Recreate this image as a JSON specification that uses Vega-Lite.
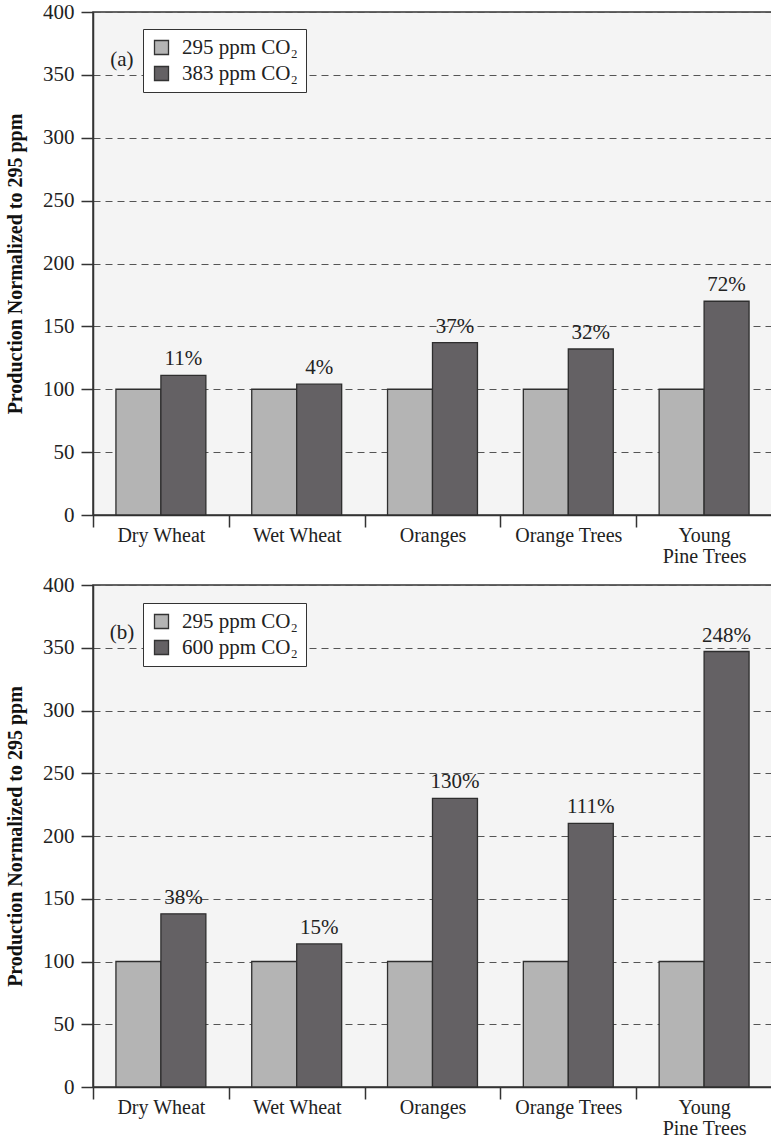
{
  "$schema": "https://vega.github.io/schema/vega-lite/v6.json",
  "padding": {"top": 0, "left": 4, "right": 0, "bottom": 0},
  "background": "white",
  "spacing": 6,
  "config": {
    "font": "Liberation Serif",
    "view": {"fill": "#f4f4f4", "stroke": "#333333", "strokeWidth": 1.5},
    "axis": {"labelFontSize": 21, "labelColor": "#222222", "domainColor": "#333333", "domainWidth": 1.5, "tickColor": "#333333", "tickWidth": 1.5, "tickSize": 12, "titleColor": "#111111"},
    "legend": {"labelFontSize": 21, "labelColor": "#222222"}
  },
  "datasets": {
    "a": [
      {"crop": "Dry Wheat", "series": "295 ppm CO₂", "value": 100, "pct": null},
      {"crop": "Dry Wheat", "series": "383 ppm CO₂", "value": 111, "pct": "11%"},
      {"crop": "Wet Wheat", "series": "295 ppm CO₂", "value": 100, "pct": null},
      {"crop": "Wet Wheat", "series": "383 ppm CO₂", "value": 104, "pct": "4%"},
      {"crop": "Oranges", "series": "295 ppm CO₂", "value": 100, "pct": null},
      {"crop": "Oranges", "series": "383 ppm CO₂", "value": 137, "pct": "37%"},
      {"crop": "Orange Trees", "series": "295 ppm CO₂", "value": 100, "pct": null},
      {"crop": "Orange Trees", "series": "383 ppm CO₂", "value": 132, "pct": "32%"},
      {"crop": "Young Pine Trees", "series": "295 ppm CO₂", "value": 100, "pct": null},
      {"crop": "Young Pine Trees", "series": "383 ppm CO₂", "value": 170, "pct": "72%"}
    ],
    "b": [
      {"crop": "Dry Wheat", "series": "295 ppm CO₂", "value": 100, "pct": null},
      {"crop": "Dry Wheat", "series": "600 ppm CO₂", "value": 138, "pct": "38%"},
      {"crop": "Wet Wheat", "series": "295 ppm CO₂", "value": 100, "pct": null},
      {"crop": "Wet Wheat", "series": "600 ppm CO₂", "value": 114, "pct": "15%"},
      {"crop": "Oranges", "series": "295 ppm CO₂", "value": 100, "pct": null},
      {"crop": "Oranges", "series": "600 ppm CO₂", "value": 230, "pct": "130%"},
      {"crop": "Orange Trees", "series": "295 ppm CO₂", "value": 100, "pct": null},
      {"crop": "Orange Trees", "series": "600 ppm CO₂", "value": 210, "pct": "111%"},
      {"crop": "Young Pine Trees", "series": "295 ppm CO₂", "value": 100, "pct": null},
      {"crop": "Young Pine Trees", "series": "600 ppm CO₂", "value": 347, "pct": "248%"}
    ],
    "tags": [
      {"panel": "a", "label": "(a)", "crop": "Dry Wheat", "value": 362},
      {"panel": "b", "label": "(b)", "crop": "Dry Wheat", "value": 362}
    ]
  },
  "resolve": {"scale": {"color": "independent", "xOffset": "independent"}, "legend": {"color": "independent"}},
  "vconcat": [
    {
      "width": 679,
      "height": 503,
      "encoding": {
        "x": {
          "field": "crop", "type": "nominal",
          "sort": ["Dry Wheat", "Wet Wheat", "Oranges", "Orange Trees", "Young Pine Trees"],
          "scale": {"paddingInner": 0, "paddingOuter": 0},
          "axis": {"title": null, "labelAngle": 0, "tickBand": "extent", "labelPadding": -2, "labelFontSize": 20, "labelLineHeight": 21, "labelBaseline": "top",
                   "labelExpr": "datum.label == 'Young Pine Trees' ? ['Young', 'Pine Trees'] : datum.label"}
        },
        "y": {
          "field": "value", "type": "quantitative",
          "scale": {"domain": [0, 400], "nice": false},
          "axis": {"title": "Production Normalized to 295 ppm", "titleFontSize": 20, "titleFontWeight": "bold", "titlePadding": 17,
                   "values": [0, 50, 100, 150, 200, 250, 300, 350, 400], "labelPadding": 7,
                   "grid": true, "gridDash": [7, 5], "gridColor": "#555555", "gridWidth": 1.2}
        }
      },
      "layer": [
        {
          "data": {"name": "a"},
          "mark": {"type": "bar", "stroke": "#2e2e2e", "strokeWidth": 1.3},
          "encoding": {
            "xOffset": {"field": "series", "type": "nominal", "scale": {"domain": ["295 ppm CO₂", "383 ppm CO₂"], "paddingInner": 0, "paddingOuter": 0.51}},
            "color": {"field": "series", "type": "nominal",
                      "scale": {"domain": ["295 ppm CO₂", "383 ppm CO₂"], "range": ["#b4b4b4", "#646164"]},
                      "legend": {"title": null, "orient": "none", "legendX": 50, "legendY": 17, "symbolType": "square", "symbolSize": 196,
                                 "symbolStrokeColor": "#333333", "symbolStrokeWidth": 1.3, "fillColor": "white", "strokeColor": "#333333",
                                 "padding": 8, "rowPadding": 4, "labelOffset": 10}}
          }
        },
        {
          "data": {"name": "a"},
          "transform": [{"filter": "datum.pct != null"}],
          "mark": {"type": "text", "fontSize": 21, "dy": -10, "baseline": "alphabetic", "color": "#222222"},
          "encoding": {
            "xOffset": {"field": "series", "type": "nominal"},
            "text": {"field": "pct"}
          }
        },
        {
          "data": {"name": "tags"},
          "transform": [{"filter": "datum.panel == 'a'"}],
          "mark": {"type": "text", "fontSize": 21, "dx": -39, "baseline": "middle", "color": "#222222"},
          "encoding": {"text": {"field": "label"}}
        }
      ]
    },
    {
      "width": 679,
      "height": 502,
      "encoding": {
        "x": {
          "field": "crop", "type": "nominal",
          "sort": ["Dry Wheat", "Wet Wheat", "Oranges", "Orange Trees", "Young Pine Trees"],
          "scale": {"paddingInner": 0, "paddingOuter": 0},
          "axis": {"title": null, "labelAngle": 0, "tickBand": "extent", "labelPadding": -2, "labelFontSize": 20, "labelLineHeight": 21, "labelBaseline": "top",
                   "labelExpr": "datum.label == 'Young Pine Trees' ? ['Young', 'Pine Trees'] : datum.label"}
        },
        "y": {
          "field": "value", "type": "quantitative",
          "scale": {"domain": [0, 400], "nice": false},
          "axis": {"title": "Production Normalized to 295 ppm", "titleFontSize": 20, "titleFontWeight": "bold", "titlePadding": 17,
                   "values": [0, 50, 100, 150, 200, 250, 300, 350, 400], "labelPadding": 7,
                   "grid": true, "gridDash": [7, 5], "gridColor": "#555555", "gridWidth": 1.2}
        }
      },
      "layer": [
        {
          "data": {"name": "b"},
          "mark": {"type": "bar", "stroke": "#2e2e2e", "strokeWidth": 1.3},
          "encoding": {
            "xOffset": {"field": "series", "type": "nominal", "scale": {"domain": ["295 ppm CO₂", "600 ppm CO₂"], "paddingInner": 0, "paddingOuter": 0.51}},
            "color": {"field": "series", "type": "nominal",
                      "scale": {"domain": ["295 ppm CO₂", "600 ppm CO₂"], "range": ["#b4b4b4", "#646164"]},
                      "legend": {"title": null, "orient": "none", "legendX": 50, "legendY": 18, "symbolType": "square", "symbolSize": 196,
                                 "symbolStrokeColor": "#333333", "symbolStrokeWidth": 1.3, "fillColor": "white", "strokeColor": "#333333",
                                 "padding": 8, "rowPadding": 4, "labelOffset": 10}}
          }
        },
        {
          "data": {"name": "b"},
          "transform": [{"filter": "datum.pct != null"}],
          "mark": {"type": "text", "fontSize": 21, "dy": -10, "baseline": "alphabetic", "color": "#222222"},
          "encoding": {
            "xOffset": {"field": "series", "type": "nominal"},
            "text": {"field": "pct"}
          }
        },
        {
          "data": {"name": "tags"},
          "transform": [{"filter": "datum.panel == 'b'"}],
          "mark": {"type": "text", "fontSize": 21, "dx": -39, "baseline": "middle", "color": "#222222"},
          "encoding": {"text": {"field": "label"}}
        }
      ]
    }
  ]
}
